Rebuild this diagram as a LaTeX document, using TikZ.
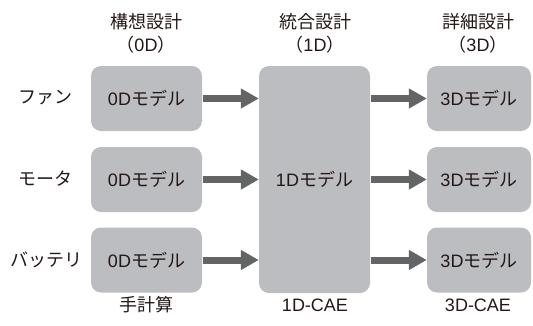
\documentclass[tikz,border=0pt]{standalone}
\usepackage{fontspec}
\setmainfont{Noto Sans CJK JP}
\newfontfamily\lat{Liberation Sans}
\usetikzlibrary{arrows.meta}
\definecolor{boxgray}{HTML}{BCBDC0}
\definecolor{arrowgray}{HTML}{636466}
\definecolor{txt}{HTML}{231815}
\tikzset{
  model/.style={fill=boxgray, rounded corners=10pt, inner sep=0pt, minimum width=111pt, minimum height=65pt, text=txt, font=\fontsize{18}{22}\selectfont},
  label/.style={inner sep=0pt, text=txt, font=\fontsize{18}{22}\selectfont},
  flow/.style={draw=arrowgray, line width=7pt, -{Triangle[width=19pt,length=18pt]}, shorten <=1pt}
}
\begin{document}
\begin{tikzpicture}[x=1pt,y=-1pt]
\useasboundingbox (0,0) rectangle (533,325);
% column headers
\node[label] (h0) at (146,22) {構想設計};
\node[label] (h0b) at (146,45) {（{\lat 0D}）};
\node[label] (h1) at (315,22) {統合設計};
\node[label] (h1b) at (315,45) {（{\lat 1D}）};
\node[label] (h3) at (478,22) {詳細設計};
\node[label] (h3b) at (478,45) {（{\lat 3D}）};
% row labels
\node[label] (r1) at (46,98) {ファン};
\node[label] (r2) at (46,179) {モータ};
\node[label] (r3) at (46,260) {バッテリ};
% boxes
\node[model] (a1) at (146.5,98.5) {{\lat 0D}モデル};
\node[model] (a2) at (146.5,179.5) {{\lat 0D}モデル};
\node[model] (a3) at (146.5,260) {{\lat 0D}モデル};
\node[model, minimum height=227pt] (m) at (314.5,179.5) {{\lat 1D}モデル};
\node[model, minimum width=104pt] (c1) at (479,98.5) {{\lat 3D}モデル};
\node[model, minimum width=104pt] (c2) at (479,179.5) {{\lat 3D}モデル};
\node[model, minimum width=104pt] (c3) at (479,260) {{\lat 3D}モデル};
% arrows
\draw[flow] (a1.east) -- (a1.east -| m.west);
\draw[flow] (a2.east) -- (a2.east -| m.west);
\draw[flow] (a3.east) -- (a3.east -| m.west);
\draw[flow] (c1.west -| m.east) -- (c1.west);
\draw[flow] (c2.west -| m.east) -- (c2.west);
\draw[flow] (c3.west -| m.east) -- (c3.west);
% bottom labels
\node[label] (b0) at (146,305) {手計算};
\node[label] (b1) at (315,305) {\lat 1D-CAE};
\node[label] (b3) at (478,305) {\lat 3D-CAE};
\end{tikzpicture}
\end{document}
